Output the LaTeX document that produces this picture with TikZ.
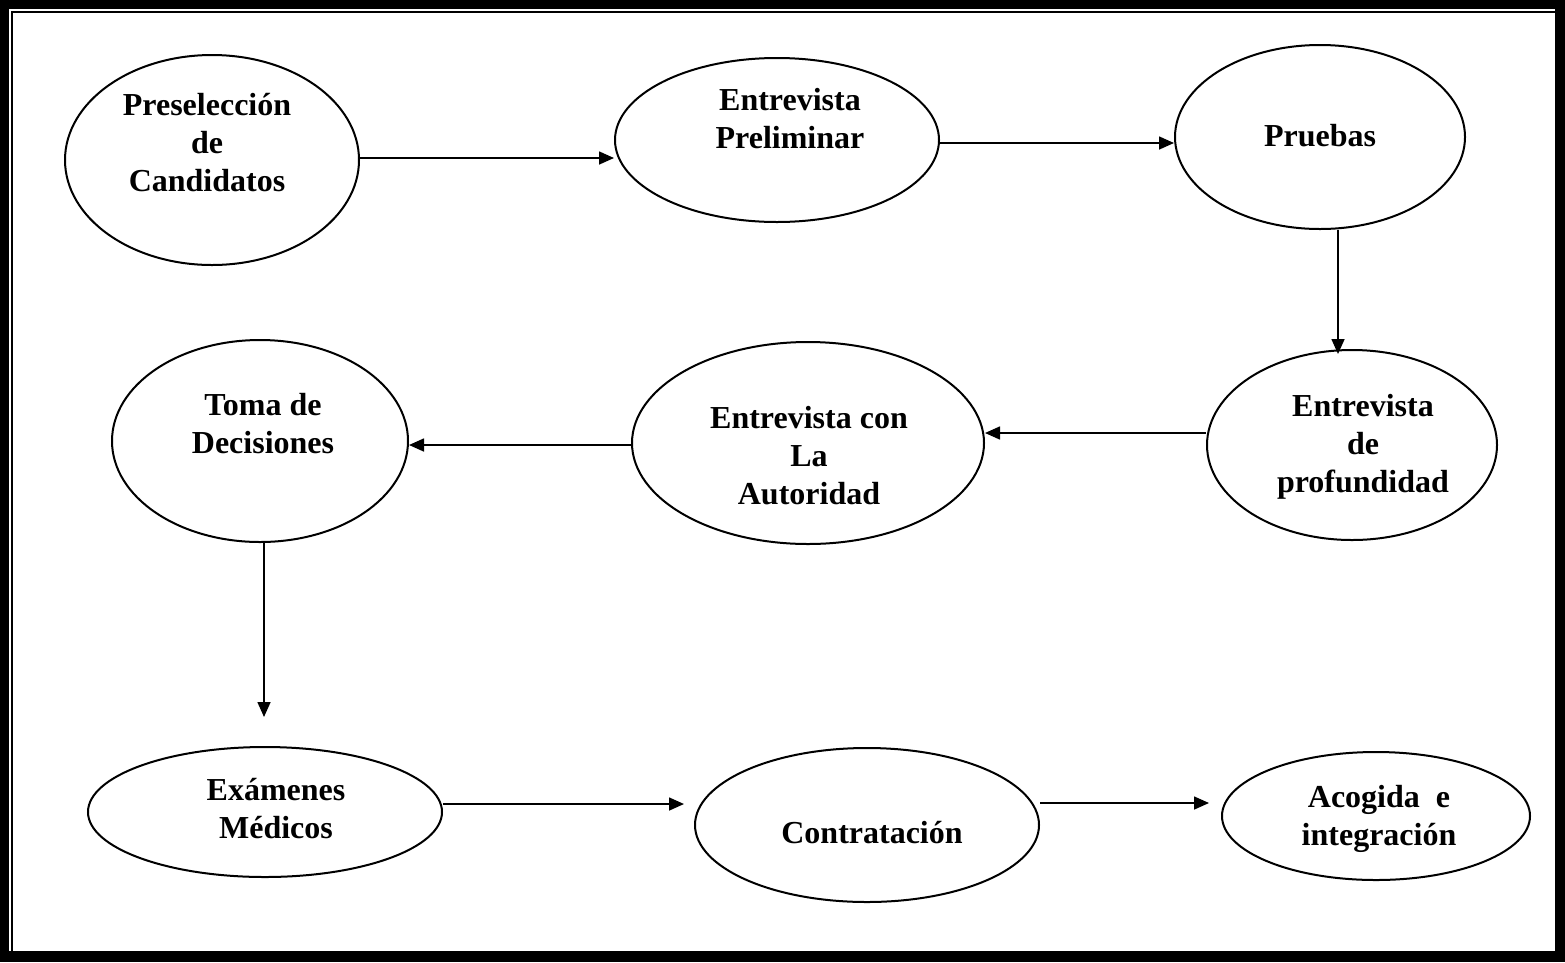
\documentclass[tikz,border=0pt]{standalone}
\usepackage{fontspec}
\setmainfont{Liberation Serif}
\usetikzlibrary{arrows.meta,shapes.geometric}
\begin{document}
\begin{tikzpicture}[x=1pt,y=-1pt,
  stage/.style={draw=black,line width=2pt,ellipse,inner sep=0pt},
  lbl/.style={align=center,font=\fontsize{32}{38}\selectfont\bfseries,inner sep=0pt},
  arr/.style={draw=black,line width=1.6pt,-{Triangle[length=15pt,width=13pt]}}]
\useasboundingbox (0,0) rectangle (1565,962);
% frame
\fill[black] (0,0) rectangle (1565,962);
\fill[white] (9,9) rectangle (1555,951);
\draw[line width=2pt] (12,951) -- (12,12) -- (1555,12);
% stages
\node[stage,minimum width=294pt,minimum height=210pt] (e1) at (212,160) {};
\node[stage,minimum width=324pt,minimum height=164pt] (e2) at (777,140) {};
\node[stage,minimum width=290pt,minimum height=184pt] (e3) at (1320,137) {};
\node[stage,minimum width=290pt,minimum height=190pt] (e4) at (1352,445) {};
\node[stage,minimum width=352pt,minimum height=202pt] (e5) at (808,443) {};
\node[stage,minimum width=296pt,minimum height=202pt] (e6) at (260,441) {};
\node[stage,minimum width=354pt,minimum height=130pt] (e7) at (265,812) {};
\node[stage,minimum width=344pt,minimum height=154pt] (e8) at (867,825) {};
\node[stage,minimum width=308pt,minimum height=128pt] (e9) at (1376,816) {};
% labels
\node[lbl] (t1) at (207,143) {Preselección\\de\\Candidatos};
\node[lbl] (t2) at (790,119) {Entrevista\\Preliminar};
\node[lbl] (t3) at (1320,136) {Pruebas};
\node[lbl] (t4) at (1363,447) {Entrevista\\de\\profundidad};
\node[lbl] (t5) at (809,456) {Entrevista con\\La\\Autoridad};
\node[lbl] (t6) at (263,424) {Toma de\\Decisiones};
\node[lbl] (t7) at (276,809) {Exámenes\\Médicos};
\node[lbl] (t8) at (872,833) {Contratación};
\node[lbl] (t9) at (1379,819) {Acogida~ e\\integración};
% connectors
\draw[arr] ([yshift=2pt]e1.east) -- ([yshift=2pt]e1.east -| e2.west);
\draw[arr] ([yshift=-3pt]e2.east) -- ([yshift=-3pt]e2.east -| e3.west);
\draw[arr] ([xshift=18pt]e3.south) -- ([xshift=-14pt,yshift=-5pt]e4.north);
\draw[arr] ([yshift=12pt]e4.west) -- ([yshift=12pt]e4.west -| e5.east);
\draw[arr] ([yshift=-2pt]e5.west) -- ([yshift=-2pt]e5.west -| e6.east);
\draw[arr,shorten >=29pt] ([xshift=4pt]e6.south) -- ([xshift=4pt]e6.south |- e7.north);
\draw[arr,shorten >=10pt] ([yshift=8pt]e7.east) -- ([yshift=8pt]e7.east -| e8.west);
\draw[arr,shorten >=12pt] ([yshift=22pt]e8.east) -- ([yshift=22pt]e8.east -| e9.west);
\end{tikzpicture}
\end{document}
